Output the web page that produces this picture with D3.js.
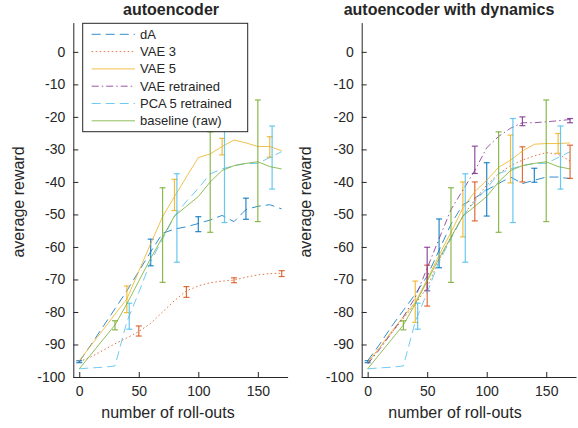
<!DOCTYPE html>
<html>
<head>
<meta charset="utf-8">
<script src="https://cdn.jsdelivr.net/npm/d3@7"></script>
<style>
  body { margin: 0; background: #fff; }
  svg text { font-family: "Liberation Sans", Arial, Helvetica, sans-serif; fill: #262626; }
</style>
</head>
<body>
<svg id="chart" width="578" height="428"></svg>
<script>
// roll-out counts shared by every curve
const rollouts = [0, 10, 20, 30, 40, 50, 60, 70, 80, 90, 100, 110, 120, 130, 140, 150, 160, 170];
const xTicks = [0, 50, 100, 150];
const yTicks = [0, -10, -20, -30, -40, -50, -60, -70, -80, -90, -100];

// left panel: autoencoder
const dAPlain = [-95.3, -90, -84.5, -79, -73.5, -67.5, -61.5, -55.8, -54.5, -53.8, -52.8, -51.7, -50.3, -52.2, -48.5, -47.5, -47, -48.3];
const vae3Plain = [-95.3, -93.8, -91.8, -89.8, -88, -86, -83.5, -80, -76.5, -73.5, -72, -71, -70.5, -70.2, -69.3, -68.6, -68.2, -68.1];
const vae5Plain = [-95, -90.2, -85.5, -80.7, -76, -67.5, -59, -50.7, -44.5, -38.5, -32.5, -31.4, -29.1, -27.1, -28, -29.1, -29.1, -30.4];

// right panel: autoencoder with dynamics
const dADyn = [-95, -90, -84.5, -79.5, -74.5, -69, -61, -53, -47, -45, -42.5, -40.5, -38.5, -40.5, -39.5, -38.5, -38.5, -39];
const vae3Dyn = [-95.5, -91, -86.5, -82, -77.5, -72.5, -64, -57, -50.5, -45.5, -41, -37.5, -35, -33.3, -32, -31, -31.5, -33.5];
const vae5Dyn = [-95.5, -91, -86, -81.5, -77, -70, -62.5, -55.5, -48, -43, -39.5, -35.5, -33.3, -30.5, -28.4, -28.2, -28.2, -28];
const vaeRetrained = [-96, -91.5, -86.5, -81.5, -75.5, -66.5, -57.5, -48.5, -42.5, -36.5, -29.5, -26, -23.5, -21.8, -21.8, -21.5, -21.2, -20.8];

// shared by both panels
const pca5Retrained = [-97.5, -97.2, -97, -96.6, -83, -74, -64.5, -57.5, -50.5, -46, -42, -37.5, -36, -35, -34.3, -34.3, -32.5, -30.7];
const baselineRaw = [-97.5, -93, -88.5, -84, -77.5, -70.5, -63.5, -57, -50.5, -47.5, -44.5, -40, -36.5, -35, -34.3, -33.8, -35.3, -36];

// error bars: [roll-outs, low, high]
const dAPlainErr = [[0, -95.6, -95.0], [60, -65.8, -57.6], [100, -55.3, -50.7], [140, -51.5, -45]];
const vae3PlainErr = [[50, -87.4, -84.3], [90, -75.5, -72.2], [130, -71, -69.5], [170, -69.1, -67.3]];
const vae5PlainErr = [[40, -80.2, -72], [80, -48.8, -39.2], [120, -31.7, -26.6], [160, -32.4, -26.1]];
const dADynErr = [[0, -95.6, -95.0], [60, -66.4, -51.4], [100, -50.5, -34.1], [140, -40.1, -35.8]];
const vae3DynErr = [[50, -78.2, -65.6], [90, -52, -40], [130, -40, -29.2], [170, -38.9, -28.7]];
const vae5DynErr = [[40, -83.2, -70.5], [80, -56.9, -40], [120, -40.3, -25.6], [160, -31.2, -25.1]];
const vaeRetrainedErr = [[50, -73.5, -60.1], [90, -37.4, -29], [130, -22.7, -20], [170, -21.8, -20.5]];
const pca5Err = [[42, -85.3, -77.3], [82, -64.7, -37.5], [122, -52.5, -20.5], [162, -42.2, -22.8]];
const baselineErr = [[30, -85.5, -82.7], [70, -70.9, -41.8], [110, -55.5, -24.6], [150, -52.2, -14.8]];

const legendNames = ['dA', 'VAE 3', 'VAE 5', 'VAE retrained', 'PCA 5 retrained', 'baseline (raw)'];
const legendColors = ['#0072BD', '#D95319', '#EDB120', '#7E2F8E', '#4DBEEE', '#77AC30'];
const legendDashes = ['9,5', '1.5,2.5', null, '7,3,1.5,3', '9,5', null];

const svg = d3.select('#chart');
const y = d3.scaleLinear().domain([-100, 9]).range([377, 22.6]);

function style(i) {
  return { color: legendColors[i], dash: legendDashes[i] };
}

function drawPanel(cfg) {
  const x = d3.scaleLinear().domain([-5, 175]).range([cfg.left, cfg.right]);
  const g = svg.append('g').attr('class', 'panel');

  const line = d3.line()
    .x((d, i) => x(rollouts[i]))
    .y(d => y(d));

  cfg.series.forEach((s) => {
    const st = style(s.style);
    const sg = g.append('g');
    sg.append('path')
      .attr('d', line(s.values))
      .attr('fill', 'none')
      .attr('stroke', st.color)
      .attr('stroke-opacity', 0.8)
      .attr('stroke-width', 1)
      .attr('stroke-dasharray', st.dash);
    const bars = sg.selectAll('g.err')
      .data(s.err)
      .enter()
      .append('g')
      .attr('class', 'err')
      .attr('stroke', st.color)
      .attr('stroke-opacity', 0.85)
      .attr('stroke-width', 1.2);
    bars.append('line')
      .attr('x1', d => x(d[0])).attr('x2', d => x(d[0]))
      .attr('y1', d => y(d[1])).attr('y2', d => y(d[2]));
    bars.append('line')
      .attr('x1', d => x(d[0]) - 3).attr('x2', d => x(d[0]) + 3)
      .attr('y1', d => y(d[1])).attr('y2', d => y(d[1]));
    bars.append('line')
      .attr('x1', d => x(d[0]) - 3).attr('x2', d => x(d[0]) + 3)
      .attr('y1', d => y(d[2])).attr('y2', d => y(d[2]));
  });

  // plain hyphen minus like the original, not the unicode minus d3 uses
  const fmt = d => String(d);
  const xAxis = g.append('g')
    .attr('transform', 'translate(0,377)')
    .call(d3.axisBottom(x).tickValues(xTicks).tickFormat(fmt).tickSizeInner(-5).tickSizeOuter(0).tickPadding(9));
  const yAxis = g.append('g')
    .attr('transform', `translate(${cfg.left},0)`)
    .call(d3.axisLeft(y).tickValues(yTicks).tickFormat(fmt).tickSizeInner(-5).tickSizeOuter(0).tickPadding(8));
  [xAxis, yAxis].forEach((a) => {
    a.attr('font-size', null).attr('font-family', null);
    a.selectAll('path, line').attr('stroke', '#262626');
    a.selectAll('text').style('font-size', '14px');
  });

  g.append('text')
    .attr('x', cfg.titleX)
    .attr('y', 15)
    .attr('text-anchor', 'middle')
    .style('font-size', '16px')
    .style('font-weight', 'bold')
    .text(cfg.title);

  g.append('text')
    .attr('x', cfg.xLabelX)
    .attr('y', 418)
    .attr('text-anchor', 'middle')
    .style('font-size', '16px')
    .text('number of roll-outs');

  g.append('text')
    .attr('transform', `translate(${cfg.yLabelX},202) rotate(-90)`)
    .attr('text-anchor', 'middle')
    .style('font-size', '16px')
    .text('average reward');
}

function drawLegend() {
  const lg = svg.append('g').attr('class', 'legend');
  lg.append('rect')
    .attr('x', 82.7).attr('y', 23.3)
    .attr('width', 165).attr('height', 108.4)
    .attr('fill', '#fff')
    .attr('stroke', '#262626')
    .attr('stroke-width', 1);
  const rows = lg.selectAll('g.row')
    .data(legendNames)
    .enter()
    .append('g')
    .attr('class', 'row')
    .attr('transform', (d, i) => `translate(0,${34.3 + i * 17.3})`);
  rows.append('line')
    .attr('x1', 91.7).attr('x2', 135)
    .attr('stroke', (d, i) => legendColors[i])
    .attr('stroke-opacity', 0.8)
    .attr('stroke-width', 1)
    .attr('stroke-dasharray', (d, i) => legendDashes[i]);
  rows.append('text')
    .attr('x', 140)
    .attr('dy', '0.35em')
    .style('font-size', '13px')
    .text(d => d);
}

drawPanel({
  title: 'autoencoder', left: 73.3, right: 287.6, titleX: 171, xLabelX: 168, yLabelX: 24,
  series: [
    { style: 0, values: dAPlain, err: dAPlainErr },
    { style: 1, values: vae3Plain, err: vae3PlainErr },
    { style: 2, values: vae5Plain, err: vae5PlainErr },
    { style: 4, values: pca5Retrained, err: pca5Err },
    { style: 5, values: baselineRaw, err: baselineErr },
  ],
});

drawPanel({
  title: 'autoencoder with dynamics', left: 361.7, right: 576, titleX: 449, xLabelX: 455, yLabelX: 311,
  series: [
    { style: 0, values: dADyn, err: dADynErr },
    { style: 1, values: vae3Dyn, err: vae3DynErr },
    { style: 2, values: vae5Dyn, err: vae5DynErr },
    { style: 3, values: vaeRetrained, err: vaeRetrainedErr },
    { style: 4, values: pca5Retrained, err: pca5Err },
    { style: 5, values: baselineRaw, err: baselineErr },
  ],
});

drawLegend();
</script>
</body>
</html>
